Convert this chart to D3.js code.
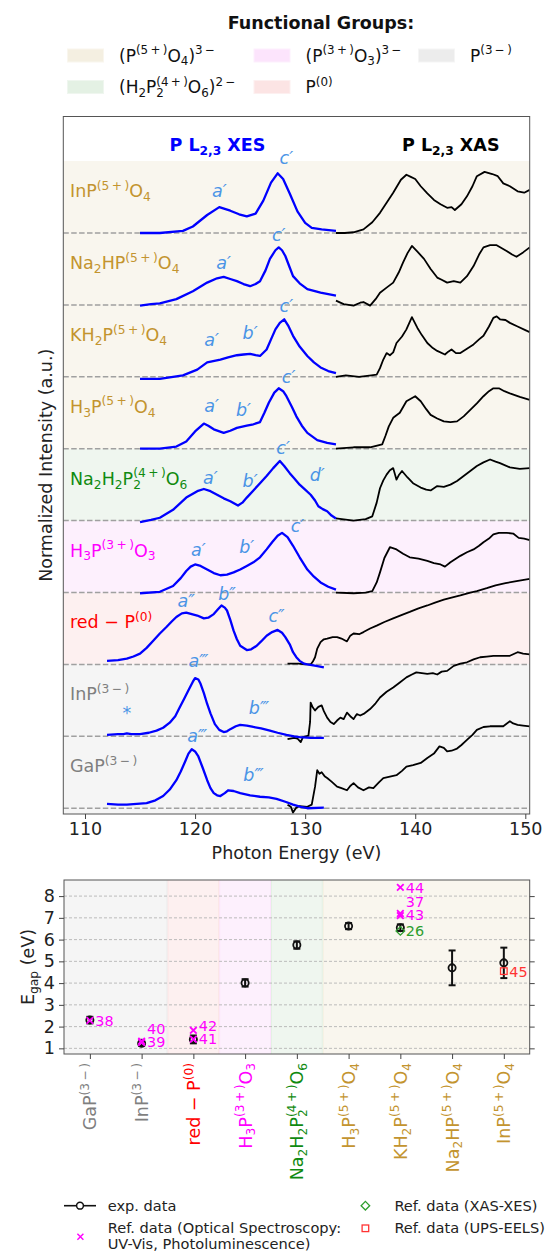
<!DOCTYPE html>
<html>
<head>
<meta charset="utf-8">
<script src="https://cdn.jsdelivr.net/npm/d3@7"></script>
<style>
  body { margin: 0; background: #fff; }
  text { font-family: "DejaVu Sans", sans-serif; }
</style>
</head>
<body>
<div id="chart"></div>
<script>
// ---- data ---------------------------------------------------------------

// samples, bottom to top (also the order of the E_gap categories)
const samples = ["GaP^{(3-)}", "InP^{(3-)}", "red \u2212 P^{(0)}", "H_3P^{(3+)}O_3",
  "Na_2H_2P_2^{(4+)}O_6", "H_3P^{(5+)}O_4", "KH_2P^{(5+)}O_4", "Na_2HP^{(5+)}O_4", "InP^{(5+)}O_4"];
const sampleGroups = ["p3m", "p3m", "p0", "p3p", "p4p", "p5p", "p5p", "p5p", "p5p"];

// functional group legend
const groupKeys = ["p5p", "p4p", "p3p", "p0", "p3m"];
const groupLabels = ["(P^{(5+)}O_4)^{3-}", "(H_2P_2^{(4+)}O_6)^{2-}", "(P^{(3+)}O_3)^{3-}", "P^{(0)}", "P^{(3-)}"];

const energyTicks = [110, 120, 130, 140, 150];

// XES spectra [photon energy (eV), normalized intensity]
const xesGaP = [[112.0,0.06],[113.0,0.05],[113.8,0.05],[114.7,0.06],[115.6,0.07],[116.4,0.11],[117.1,0.17],[117.7,0.26],[118.3,0.39],[118.7,0.51],[119.1,0.65],[119.4,0.76],[119.7,0.82],[120.0,0.79],[120.3,0.72],[120.7,0.56],[121.1,0.39],[121.4,0.28],[121.7,0.21],[122.0,0.18],[122.3,0.17],[122.7,0.21],[123.0,0.25],[123.5,0.24],[124.1,0.21],[125.0,0.18],[125.9,0.16],[126.7,0.15],[127.4,0.13],[128.2,0.09],[128.9,0.05],[129.6,0.02],[130.2,0.0],[131.7,0.01]];
const xesInP3 = [[112.0,0.02],[113.0,0.03],[113.5,0.03],[113.8,0.04],[114.2,0.03],[115.0,0.03],[115.8,0.05],[116.5,0.08],[117.1,0.12],[117.7,0.19],[118.2,0.28],[118.6,0.40],[119.0,0.52],[119.4,0.64],[119.8,0.76],[120.0,0.81],[120.3,0.79],[120.5,0.73],[120.8,0.60],[121.1,0.45],[121.4,0.32],[121.8,0.17],[122.2,0.09],[122.6,0.06],[122.9,0.07],[123.2,0.10],[123.7,0.14],[124.1,0.16],[124.7,0.15],[125.3,0.13],[126.0,0.11],[126.8,0.08],[127.5,0.05],[128.3,0.02],[129.0,0.0],[129.5,-0.01],[130.5,-0.02],[131.7,-0.02]];
const xesRedP = [[112.0,0.05],[113.0,0.06],[113.8,0.08],[114.4,0.11],[115.0,0.15],[115.6,0.23],[116.2,0.33],[116.8,0.43],[117.4,0.52],[117.9,0.60],[118.3,0.66],[118.8,0.71],[119.2,0.72],[119.7,0.70],[120.2,0.68],[120.8,0.64],[121.2,0.65],[121.7,0.70],[122.1,0.77],[122.4,0.82],[122.7,0.79],[122.9,0.75],[123.2,0.62],[123.5,0.47],[123.8,0.35],[124.1,0.26],[124.7,0.20],[125.1,0.21],[125.6,0.26],[126.0,0.32],[126.5,0.40],[127.0,0.45],[127.5,0.48],[127.9,0.44],[128.2,0.38],[128.6,0.28],[128.9,0.17],[129.2,0.10],[129.5,0.05],[129.9,0.01],[130.2,0.0],[131.0,-0.02],[131.7,-0.04]];
const xesH3PO3 = [[115.0,-0.01],[116.8,0.01],[118.0,0.09],[118.7,0.20],[119.2,0.30],[119.6,0.36],[120.0,0.39],[120.5,0.37],[121.1,0.32],[121.7,0.27],[122.3,0.24],[122.9,0.25],[123.5,0.28],[124.1,0.32],[124.7,0.37],[125.3,0.42],[125.9,0.49],[126.5,0.60],[127.0,0.70],[127.5,0.79],[127.9,0.83],[128.4,0.77],[128.9,0.65],[129.5,0.49],[130.2,0.32],[130.8,0.22],[131.4,0.14],[132.1,0.08],[132.8,0.04]];
const xesNa2H2 = [[115.0,-0.02],[116.0,0.01],[116.8,0.04],[118.0,0.15],[119.2,0.32],[120.2,0.41],[120.8,0.44],[121.4,0.41],[122.0,0.36],[122.6,0.31],[123.2,0.27],[123.9,0.21],[124.3,0.25],[124.7,0.32],[125.3,0.42],[125.9,0.52],[126.5,0.62],[127.1,0.73],[127.7,0.83],[128.1,0.76],[128.6,0.66],[129.0,0.59],[129.5,0.50],[130.0,0.43],[130.5,0.36],[130.9,0.28],[131.2,0.20],[131.6,0.16],[132.0,0.13],[132.4,0.07],[132.8,0.03]];
const xesH3PO4 = [[115.0,0.0],[116.8,0.0],[118.3,0.03],[119.2,0.10],[120.0,0.24],[120.8,0.35],[121.2,0.32],[121.7,0.27],[122.6,0.22],[123.2,0.25],[123.8,0.29],[124.7,0.32],[125.3,0.34],[125.9,0.37],[126.3,0.50],[126.7,0.64],[127.2,0.78],[127.6,0.84],[128.0,0.80],[128.3,0.73],[128.8,0.58],[129.2,0.45],[129.7,0.32],[130.2,0.22],[131.1,0.12],[132.0,0.08],[132.8,0.06]];
const xesKH2P = [[115.0,-0.03],[116.8,-0.03],[118.9,0.02],[120.2,0.10],[121.1,0.20],[122.3,0.24],[123.0,0.27],[123.8,0.30],[124.4,0.31],[125.0,0.32],[125.5,0.30],[125.9,0.29],[126.5,0.38],[126.9,0.52],[127.3,0.66],[127.7,0.75],[128.1,0.80],[128.5,0.70],[128.9,0.57],[129.5,0.42],[130.2,0.29],[130.8,0.20],[131.4,0.13],[132.1,0.08],[132.8,0.05]];
const xesNa2HP = [[115.0,-0.01],[116.0,0.01],[116.8,0.02],[118.3,0.08],[119.8,0.19],[121.1,0.31],[122.0,0.37],[122.6,0.39],[123.2,0.36],[123.8,0.33],[124.4,0.29],[125.0,0.26],[125.5,0.29],[125.9,0.33],[126.4,0.48],[126.8,0.64],[127.3,0.76],[127.6,0.80],[127.9,0.76],[128.2,0.68],[128.6,0.52],[128.9,0.40],[129.5,0.30],[130.2,0.22],[131.4,0.17],[132.8,0.13]];
const xesInP5 = [[115.0,0.0],[116.8,0.0],[118.9,0.03],[119.8,0.09],[121.1,0.25],[122.2,0.36],[123.2,0.31],[124.0,0.26],[124.7,0.23],[125.5,0.27],[126.2,0.45],[126.9,0.70],[127.5,0.83],[128.0,0.75],[128.6,0.55],[129.3,0.30],[130.0,0.14],[130.6,0.07],[131.5,0.05],[132.8,0.03]];

// XAS spectra [photon energy (eV), normalized intensity]
const xasGaP = [[128.4,0.05],[128.7,0.02],[128.9,-0.06],[129.2,0.01],[129.5,0.03],[130.2,0.02],[130.6,0.05],[130.9,0.30],[131.1,0.53],[131.3,0.48],[131.5,0.50],[131.8,0.44],[132.0,0.42],[132.4,0.37],[132.9,0.30],[133.3,0.28],[133.8,0.25],[134.1,0.31],[134.4,0.35],[134.8,0.29],[135.3,0.25],[135.8,0.29],[136.2,0.28],[136.7,0.36],[137.1,0.42],[137.7,0.44],[138.3,0.46],[138.8,0.52],[139.2,0.58],[139.8,0.60],[140.5,0.63],[141.1,0.70],[141.7,0.76],[142.2,0.86],[142.6,0.84],[142.9,0.79],[143.3,0.80],[143.8,0.83],[144.2,0.88],[144.7,0.95],[145.2,1.02],[145.6,1.09],[146.2,1.13],[146.8,1.14],[147.4,1.14],[148.0,1.14],[148.6,1.21],[148.9,1.18],[149.3,1.16],[149.8,1.15],[150.4,1.14]];
const xasInP3 = [[128.4,-0.04],[129.0,-0.02],[129.3,-0.03],[129.6,-0.08],[129.8,-0.01],[130.3,0.01],[130.45,0.2],[130.5,0.47],[130.7,0.40],[130.9,0.36],[131.2,0.41],[131.5,0.43],[131.7,0.35],[132.0,0.26],[132.3,0.20],[132.6,0.17],[132.9,0.22],[133.2,0.26],[133.5,0.24],[133.8,0.33],[134.1,0.28],[134.4,0.24],[134.7,0.31],[135.0,0.29],[135.4,0.32],[135.9,0.38],[136.4,0.46],[136.8,0.54],[137.4,0.62],[138.0,0.68],[138.6,0.75],[139.2,0.82],[139.7,0.86],[140.1,0.89],[140.6,0.88],[141.1,0.87],[141.6,0.88],[142.0,0.86],[142.4,0.90],[142.9,0.91],[143.5,0.98],[144.1,1.01],[144.7,1.03],[145.3,1.07],[145.9,1.10],[146.5,1.11],[147.1,1.12],[147.8,1.12],[148.6,1.12],[149.3,1.17],[149.8,1.15],[150.4,1.14]];
const xasRedP = [[128.4,0.01],[129.4,0.01],[130.0,0.0],[130.5,0.0],[130.7,0.04],[130.9,0.10],[131.1,0.22],[131.4,0.31],[131.7,0.35],[132.0,0.36],[132.5,0.38],[132.9,0.38],[133.3,0.36],[133.8,0.32],[134.1,0.40],[134.4,0.43],[134.9,0.42],[135.3,0.45],[135.9,0.50],[136.5,0.54],[137.2,0.59],[138.0,0.64],[138.8,0.69],[139.5,0.73],[140.3,0.78],[141.1,0.82],[141.8,0.86],[142.6,0.90],[143.3,0.93],[144.1,0.96],[145.0,1.0],[145.6,1.02],[146.5,1.06],[147.3,1.10],[148.2,1.13],[149.2,1.16],[150.4,1.19]];
const xasH3PO3 = [[132.8,0.0],[134.4,-0.01],[135.5,0.0],[136.1,0.02],[136.5,0.14],[136.8,0.28],[137.2,0.48],[137.7,0.63],[138.3,0.60],[138.9,0.54],[139.5,0.49],[140.3,0.47],[141.1,0.44],[141.7,0.41],[142.3,0.39],[142.7,0.36],[143.2,0.42],[144.1,0.51],[144.7,0.56],[145.3,0.60],[145.8,0.65],[146.2,0.70],[146.7,0.75],[147.1,0.81],[147.6,0.83],[148.3,0.83],[148.9,0.82],[149.4,0.76],[149.9,0.75],[150.4,0.73]];
const xasNa2H2 = [[132.8,0.03],[134.4,0.0],[135.5,0.02],[136.1,0.06],[136.5,0.25],[136.8,0.45],[137.1,0.56],[137.4,0.64],[137.7,0.70],[138.0,0.73],[138.3,0.57],[138.5,0.63],[138.8,0.69],[139.3,0.60],[139.8,0.52],[140.5,0.46],[141.0,0.43],[141.4,0.42],[141.8,0.46],[142.0,0.48],[142.6,0.47],[143.2,0.50],[143.8,0.55],[144.4,0.62],[145.0,0.69],[145.6,0.76],[146.2,0.81],[146.8,0.85],[147.3,0.82],[147.7,0.80],[148.6,0.74],[149.5,0.72],[150.4,0.73]];
const xasH3PO4 = [[132.8,0.0],[134.4,0.02],[135.9,0.02],[137.0,0.06],[137.3,0.18],[137.6,0.31],[138.0,0.43],[138.6,0.50],[139.2,0.66],[140.0,0.73],[140.5,0.66],[141.0,0.55],[141.4,0.47],[142.0,0.42],[142.6,0.38],[143.2,0.37],[143.8,0.38],[144.4,0.45],[145.0,0.54],[145.6,0.63],[146.2,0.73],[146.7,0.80],[147.1,0.84],[147.6,0.84],[148.1,0.80],[148.6,0.77],[149.5,0.72],[150.4,0.68]];
const xasKH2P = [[132.8,0.0],[133.7,0.02],[134.9,0.0],[136.0,0.02],[136.5,0.03],[136.8,0.12],[137.1,0.24],[137.4,0.33],[137.7,0.30],[138.0,0.34],[138.3,0.47],[138.8,0.56],[139.2,0.66],[139.7,0.83],[140.2,0.68],[140.6,0.58],[141.1,0.47],[141.6,0.40],[142.0,0.36],[142.7,0.31],[143.0,0.35],[143.3,0.38],[143.7,0.33],[144.1,0.33],[144.7,0.39],[145.3,0.45],[145.8,0.52],[146.2,0.57],[146.7,0.70],[147.1,0.82],[147.4,0.84],[147.7,0.80],[148.2,0.79],[148.6,0.75],[149.3,0.70],[150.0,0.65],[150.4,0.62]];
const xasNa2HP = [[132.8,0.06],[133.5,0.01],[134.4,-0.01],[135.0,0.03],[135.3,0.04],[135.9,-0.01],[136.4,0.08],[136.8,0.17],[137.4,0.24],[138.0,0.31],[138.5,0.45],[138.9,0.59],[139.3,0.72],[139.7,0.82],[140.2,0.74],[140.8,0.64],[141.4,0.50],[142.0,0.38],[142.4,0.35],[142.9,0.31],[143.5,0.33],[144.1,0.31],[144.7,0.40],[145.3,0.54],[145.8,0.70],[146.2,0.80],[146.8,0.83],[147.4,0.83],[148.3,0.75],[148.8,0.70],[149.2,0.67],[149.8,0.73],[150.4,0.80]];
const xasInP5 = [[132.8,0.0],[133.6,0.0],[134.4,0.01],[135.3,0.05],[136.1,0.15],[136.8,0.28],[137.4,0.42],[138.0,0.56],[138.7,0.74],[139.2,0.81],[139.6,0.78],[140.0,0.75],[140.5,0.65],[141.1,0.55],[141.7,0.46],[142.3,0.40],[142.9,0.35],[143.3,0.36],[143.6,0.32],[144.2,0.40],[144.7,0.51],[145.2,0.65],[145.6,0.79],[146.3,0.85],[147.0,0.82],[147.5,0.79],[148.0,0.69],[148.6,0.65],[149.3,0.58],[149.9,0.56],[150.4,0.60]];

const xesSeries = [xesGaP, xesInP3, xesRedP, xesH3PO3, xesNa2H2, xesH3PO4, xesKH2P, xesNa2HP, xesInP5];
const xasSeries = [xasGaP, xasInP3, xasRedP, xasH3PO3, xasNa2H2, xasH3PO4, xasKH2P, xasNa2HP, xasInP5];

// peak labels [sample index, energy, intensity, text]
const peakLabels = [
  [8,122.2,0.58,"a\u2032"],[8,128.3,1.04,"c\u2032"],
  [7,122.6,0.59,"a\u2032"],[7,127.6,0.98,"c\u2032"],
  [6,121.5,0.52,"a\u2032"],[6,125.0,0.61,"b\u2032"],[6,128.3,0.99,"c\u2032"],
  [5,121.5,0.59,"a\u2032"],[5,124.4,0.54,"b\u2032"],[5,128.5,1.0,"c\u2032"],
  [4,121.4,0.59,"a\u2032"],[4,125.0,0.55,"b\u2032"],[4,128.0,1.01,"c\u2032"],[4,131.1,0.64,"d\u2032"],
  [3,120.3,0.60,"a\u2032"],[3,124.7,0.63,"b\u2032"],[3,129.3,0.93,"c\u2032"],
  [2,119.2,0.89,"a\u2033"],[2,122.9,0.98,"b\u2033"],[2,127.4,0.68,"c\u2033"],
  [1,120.3,1.05,"a\u2034"],[1,125.8,0.39,"b\u2034"],[1,113.8,0.33,"*"],
  [0,120.2,1.0,"a\u2034"],[0,125.3,0.46,"b\u2034"]
];

// band gaps (eV), same order as samples
const egapExp = [2.30, 1.23, 1.41, 4.01, 5.75, 6.62, 6.55, 4.70, 4.93];
const egapErr = [0.15, 0.12, 0.18, 0.17, 0.17, 0.14, 0.15, 0.80, 0.70];
// reference values [category, E_gap, ref number, label height]
const refOptical = [[0,2.28,"38",2.28],[1,1.33,"39",1.29],[1,1.27,"40",1.88],[2,1.83,"42",2.02],[2,1.42,"41",1.42],
  [6,8.40,"44",8.40],[6,7.20,"37",7.74],[6,7.10,"43",7.16]];
const refXasXes = [[6,6.40,"26",6.40]];
const refUpsEels = [[8,4.55,"45",4.52]];

// ---- styles -------------------------------------------------------------
const groupStyle = {
  p5p: { text: "#c3942f", band: "#f9f6ee", patch: "#f4efe1" },
  p4p: { text: "#108a10", band: "#eff6ef", patch: "#e4f1e4" },
  p3p: { text: "#ff00ff", band: "#fdf0fd", patch: "#fce4fc" },
  p0:  { text: "#ff0000", band: "#fdf0f0", patch: "#fce4e4" },
  p3m: { text: "#7f7f7f", band: "#f5f5f5", patch: "#ececec" }
};
const xesColor = "#0000ff", peakColor = "#4a94e6";
const optColor = "#ff00ff", xasxesColor = "#2e9e2e", upsColor = "#ff3333";
const FS = 17.5;

// ---- helpers ------------------------------------------------------------
function parseMath(s) {
  const out = [];
  let buf = "", i = 0;
  while (i < s.length) {
    const c = s[i];
    if (c === "_" || c === "^") {
      if (buf) { out.push({ t: buf, m: "n" }); buf = ""; }
      let t;
      if (s[i + 1] === "{") { const k = s.indexOf("}", i + 1); t = s.slice(i + 2, k); i = k + 1; }
      else { t = s[i + 1]; i += 2; }
      t = t.replace(/\+/g, "\u2009+\u2009").replace(/-/g, "\u2009\u2212\u2009");
      out.push({ t: t, m: c === "_" ? "sub" : "sup" });
    } else { buf += c; i++; }
  }
  if (buf) out.push({ t: buf, m: "n" });
  return out;
}

// writes mathtext-like string into a <text> with tspans
function mathText(textSel, s, fs) {
  let cur = 0, prev = null;
  parseMath(s).forEach(seg => {
    const target = seg.m === "sub" ? 0.22 * fs : seg.m === "sup" ? -0.42 * fs : 0;
    const ts = textSel.append("tspan")
      .attr("font-size", seg.m === "n" ? fs : 0.7 * fs)
      .attr("dy", target - cur)
      .text(seg.t);
    if (seg.m === "sup" && prev && prev.m === "sub") {
      ts.attr("dx", -prev.node.getComputedTextLength());
    }
    cur = target;
    prev = { m: seg.m, node: ts.node() };
  });
  return textSel;
}

// ---- svg ----------------------------------------------------------------
const svg = d3.select("#chart").append("svg")
  .attr("width", 548).attr("height", 1251);

// ==== upper panel: spectra ==============================================
const upBox = { l: 63.3, r: 529.7, t: 116.5, b: 814 };
const x = d3.scaleLinear().domain([108.03, 150.4]).range([upBox.l, upBox.r]);
const y = d3.scaleLinear().domain([-0.08, 9.62]).range([upBox.b, upBox.t]);

svg.append("clipPath").attr("id", "clipTop")
  .append("rect").attr("x", upBox.l).attr("y", upBox.t)
  .attr("width", upBox.r - upBox.l).attr("height", upBox.b - upBox.t);

const up = svg.append("g").attr("clip-path", "url(#clipTop)");

// functional group bands
up.selectAll("rect.band")
  .data(samples)
  .enter()
  .append("rect")
    .attr("class", "band")
    .attr("x", upBox.l)
    .attr("width", upBox.r - upBox.l)
    .attr("y", (d, i) => y(i + 1))
    .attr("height", (d, i) => (i === 0 ? y(y.domain()[0]) : y(i)) - y(i + 1))
    .attr("fill", (d, i) => groupStyle[sampleGroups[i]].band)
    .attr("shape-rendering", "crispEdges");

// dashed zero lines
up.selectAll("line.base")
  .data(samples)
  .enter()
  .append("line")
    .attr("x1", upBox.l).attr("x2", upBox.r)
    .attr("y1", (d, i) => y(i)).attr("y2", (d, i) => y(i))
    .attr("stroke", "#a0a0a0")
    .attr("stroke-width", 1.5)
    .attr("stroke-dasharray", "5.5,2.4");

function offsetLine(k) {
  return d3.line().x(d => x(d[0])).y(d => y(d[1] + k));
}

xasSeries.forEach((s, k) => {
  up.append("path").datum(s)
    .attr("d", offsetLine(k))
    .attr("fill", "none").attr("stroke", "#000")
    .attr("stroke-width", 1.8).attr("stroke-linejoin", "round");
});
xesSeries.forEach((s, k) => {
  up.append("path").datum(s)
    .attr("d", offsetLine(k))
    .attr("fill", "none").attr("stroke", xesColor)
    .attr("stroke-width", 2.3).attr("stroke-linejoin", "round");
});

// sample names
samples.forEach((s, i) => {
  const t = up.append("text")
    .attr("x", x(108.64)).attr("y", y(i + 0.5))
    .attr("fill", groupStyle[sampleGroups[i]].text);
  mathText(t, s, FS);
});

// peak labels
up.selectAll("text.peak")
  .data(peakLabels)
  .enter()
  .append("text")
    .attr("class", "peak")
    .attr("x", d => x(d[1]))
    .attr("y", d => y(d[0] + d[2]))
    .attr("dy", "0.35em")
    .attr("text-anchor", "middle")
    .attr("font-size", FS)
    .attr("font-style", d => d[3] === "*" ? "normal" : "italic")
    .attr("fill", peakColor)
    .text(d => d[3]);

// technique titles
mathText(svg.append("text").attr("x", 169.5).attr("y", 151)
  .attr("font-weight", "bold").attr("fill", xesColor), "P L_{2,3} XES", FS);
mathText(svg.append("text").attr("x", 402).attr("y", 151)
  .attr("font-weight", "bold").attr("fill", "#000"), "P L_{2,3} XAS", FS);

// frame
svg.append("rect")
  .attr("x", upBox.l).attr("y", upBox.t)
  .attr("width", upBox.r - upBox.l).attr("height", upBox.b - upBox.t)
  .attr("fill", "none").attr("stroke", "#555").attr("stroke-width", 1);

const xAxis = svg.append("g")
  .attr("transform", "translate(0," + upBox.b + ")")
  .call(d3.axisBottom(x).tickValues(energyTicks).tickSize(5).tickPadding(4));
xAxis.select(".domain").remove();
xAxis.selectAll("text").attr("font-size", FS).attr("font-family", "DejaVu Sans").attr("fill", "#222");
xAxis.selectAll("line").attr("stroke", "#444");

svg.append("text")
  .attr("x", (upBox.l + upBox.r) / 2).attr("y", 859)
  .attr("text-anchor", "middle").attr("font-size", FS).attr("fill", "#222")
  .text("Photon Energy (eV)");

svg.append("text")
  .attr("transform", "translate(52," + (upBox.t + upBox.b) / 2 + ") rotate(-90)")
  .attr("text-anchor", "middle").attr("font-size", FS).attr("fill", "#222")
  .text("Normalized Intensity (a.u.)");

// ==== lower panel: band gaps ============================================
const loBox = { l: 64, r: 529.7, t: 880, b: 1054 };
const xc = d3.scaleLinear().domain([-0.5, 8.5]).range([loBox.l, loBox.r]);
const yg = d3.scaleLinear().domain([0.74, 8.74]).range([loBox.b, loBox.t]);

const lo = svg.append("g");

lo.selectAll("rect.band")
  .data(samples)
  .enter()
  .append("rect")
    .attr("x", (d, i) => xc(i - 0.5))
    .attr("width", xc(1) - xc(0))
    .attr("y", loBox.t).attr("height", loBox.b - loBox.t)
    .attr("fill", (d, i) => groupStyle[sampleGroups[i]].band)
    .attr("shape-rendering", "crispEdges");

// faint edges where the group changes
sampleGroups.forEach((g, i) => {
  if (i > 0 && g !== sampleGroups[i - 1]) {
    [g, sampleGroups[i - 1]].forEach((gg, j) => {
      lo.append("line")
        .attr("x1", xc(i - 0.5) + (j === 0 ? 0.5 : -0.5)).attr("x2", xc(i - 0.5) + (j === 0 ? 0.5 : -0.5))
        .attr("y1", loBox.t).attr("y2", loBox.b)
        .attr("stroke", groupStyle[gg].patch).attr("stroke-width", 1);
    });
  }
});

// grid
lo.selectAll("line.grid")
  .data(d3.range(1, 9))
  .enter()
  .append("line")
    .attr("x1", loBox.l).attr("x2", loBox.r)
    .attr("y1", d => yg(d)).attr("y2", d => yg(d))
    .attr("stroke", "#b5b5b5").attr("stroke-width", 0.9)
    .attr("stroke-dasharray", "3,2");

// experimental points with error bars
const exp = lo.selectAll("g.exp")
  .data(egapExp)
  .enter()
  .append("g");
exp.append("line")
  .attr("x1", (d, i) => xc(i)).attr("x2", (d, i) => xc(i))
  .attr("y1", (d, i) => yg(d - egapErr[i])).attr("y2", (d, i) => yg(d + egapErr[i]))
  .attr("stroke", "#111").attr("stroke-width", 2);
[-1, 1].forEach(sgn => {
  exp.append("line")
    .attr("x1", (d, i) => xc(i) - 3.5).attr("x2", (d, i) => xc(i) + 3.5)
    .attr("y1", (d, i) => yg(d + sgn * egapErr[i])).attr("y2", (d, i) => yg(d + sgn * egapErr[i]))
    .attr("stroke", "#111").attr("stroke-width", 2);
});
exp.append("circle")
  .attr("cx", (d, i) => xc(i)).attr("cy", d => yg(d))
  .attr("r", 3.6).attr("fill", "none")
  .attr("stroke", "#111").attr("stroke-width", 1.8);

// reference markers
const crossPath = r => `M${-r},${-r}L${r},${r}M${-r},${r}L${r},${-r}`;
const diamondPath = r => `M0,${-r}L${r},0L0,${r}L${-r},0Z`;

lo.selectAll("path.opt").data(refOptical).enter().append("path")
  .attr("transform", d => `translate(${xc(d[0])},${yg(d[1])})`)
  .attr("d", crossPath(3.3)).attr("stroke", optColor).attr("stroke-width", 1.8).attr("fill", "none");
lo.selectAll("path.xx").data(refXasXes).enter().append("path")
  .attr("transform", d => `translate(${xc(d[0])},${yg(d[1])})`)
  .attr("d", diamondPath(4.3)).attr("stroke", xasxesColor).attr("stroke-width", 1.3).attr("fill", "none");
lo.selectAll("rect.ups").data(refUpsEels).enter().append("rect")
  .attr("x", d => xc(d[0]) - 3.3).attr("y", d => yg(d[1]) - 3.3)
  .attr("width", 6.6).attr("height", 6.6)
  .attr("stroke", upsColor).attr("stroke-width", 1.3).attr("fill", "none");

// reference numbers
[[refOptical, optColor], [refXasXes, xasxesColor], [refUpsEels, upsColor]].forEach(([arr, col]) => {
  lo.selectAll(null).data(arr).enter().append("text")
    .attr("x", d => xc(d[0]) + 5.5).attr("y", d => yg(d[3]))
    .attr("dy", "0.36em").attr("font-size", 14.4).attr("fill", col)
    .text(d => d[2]);
});

// frame and axes
svg.append("rect")
  .attr("x", loBox.l).attr("y", loBox.t)
  .attr("width", loBox.r - loBox.l).attr("height", loBox.b - loBox.t)
  .attr("fill", "none").attr("stroke", "#555").attr("stroke-width", 1);

const yAxL = svg.append("g").attr("transform", "translate(" + loBox.l + ",0)")
  .call(d3.axisLeft(yg).tickValues(d3.range(1, 9)).tickFormat(d3.format("d")).tickSize(5).tickPadding(4));
const yAxR = svg.append("g").attr("transform", "translate(" + loBox.r + ",0)")
  .call(d3.axisRight(yg).tickValues(d3.range(1, 9)).tickFormat("").tickSize(5));
const xAxB = svg.append("g").attr("transform", "translate(0," + loBox.b + ")")
  .call(d3.axisBottom(xc).tickValues(d3.range(0, 9)).tickFormat("").tickSize(5));
[yAxL, yAxR, xAxB].forEach(a => {
  a.select(".domain").remove();
  a.selectAll("line").attr("stroke", "#444");
  a.selectAll("text").attr("font-size", FS).attr("font-family", "DejaVu Sans").attr("fill", "#222");
});

samples.forEach((s, i) => {
  const t = svg.append("text")
    .attr("transform", `translate(${xc(i)},1063) rotate(-90)`)
    .attr("text-anchor", "end")
    .attr("y", 6.5)
    .attr("fill", groupStyle[sampleGroups[i]].text);
  mathText(t, s, FS);
});

mathText(svg.append("text")
  .attr("transform", "translate(34," + (loBox.t + loBox.b) / 2 + ") rotate(-90)")
  .attr("text-anchor", "middle").attr("fill", "#222"), "E_{gap} (eV)", FS);

// ==== legends ===========================================================
svg.append("text")
  .attr("x", 321).attr("y", 29)
  .attr("text-anchor", "middle").attr("font-weight", "bold").attr("font-size", FS)
  .attr("fill", "#111")
  .text("Functional Groups:");

const legCols = [67.5, 254, 418.5];
const legRows = [55.5, 87];
groupKeys.forEach((g, k) => {
  const cx = legCols[Math.floor(k / 2)], cy = legRows[k % 2];
  svg.append("rect")
    .attr("x", cx).attr("y", cy - 6.5).attr("width", 36).attr("height", 13)
    .attr("fill", groupStyle[g].patch)
    .attr("stroke", groupStyle[g].band).attr("stroke-width", 1);
  const t = svg.append("text")
    .attr("x", cx + 51.5).attr("y", cy + 6)
    .attr("fill", "#111");
  mathText(t, groupLabels[k], 17);
});

const LF = 14.6;
const leg = svg.append("g");
leg.append("line").attr("x1", 64).attr("x2", 96).attr("y1", 1205.7).attr("y2", 1205.7)
  .attr("stroke", "#111").attr("stroke-width", 1.6);
leg.append("circle").attr("cx", 80).attr("cy", 1205.7).attr("r", 3.4)
  .attr("fill", "#fff").attr("stroke", "#111").attr("stroke-width", 1.5);
leg.append("text").attr("x", 107.7).attr("y", 1205.7).attr("dy", "0.35em")
  .attr("font-size", LF).attr("fill", "#222").text("exp. data");

leg.append("path").attr("transform", "translate(80.4,1236.7)")
  .attr("d", crossPath(3)).attr("stroke", optColor).attr("stroke-width", 1.4);
leg.append("text").attr("x", 107.7).attr("y", 1228.3).attr("dy", "0.35em")
  .attr("font-size", LF).attr("fill", "#222").text("Ref. data (Optical Spectroscopy:");
leg.append("text").attr("x", 107.7).attr("y", 1244.3).attr("dy", "0.35em")
  .attr("font-size", LF).attr("fill", "#222").text("UV-Vis, Photoluminescence)");

leg.append("path").attr("transform", "translate(365.4,1205.7)")
  .attr("d", diamondPath(4.3)).attr("stroke", xasxesColor).attr("stroke-width", 1.3).attr("fill", "none");
leg.append("text").attr("x", 394.4).attr("y", 1205.7).attr("dy", "0.35em")
  .attr("font-size", LF).attr("fill", "#222").text("Ref. data (XAS-XES)");

leg.append("rect").attr("x", 362.1).attr("y", 1225).attr("width", 6.6).attr("height", 6.6)
  .attr("stroke", upsColor).attr("stroke-width", 1.3).attr("fill", "none");
leg.append("text").attr("x", 394.4).attr("y", 1228.3).attr("dy", "0.35em")
  .attr("font-size", LF).attr("fill", "#222").text("Ref. data (UPS-EELS)");
</script>
</body>
</html>
